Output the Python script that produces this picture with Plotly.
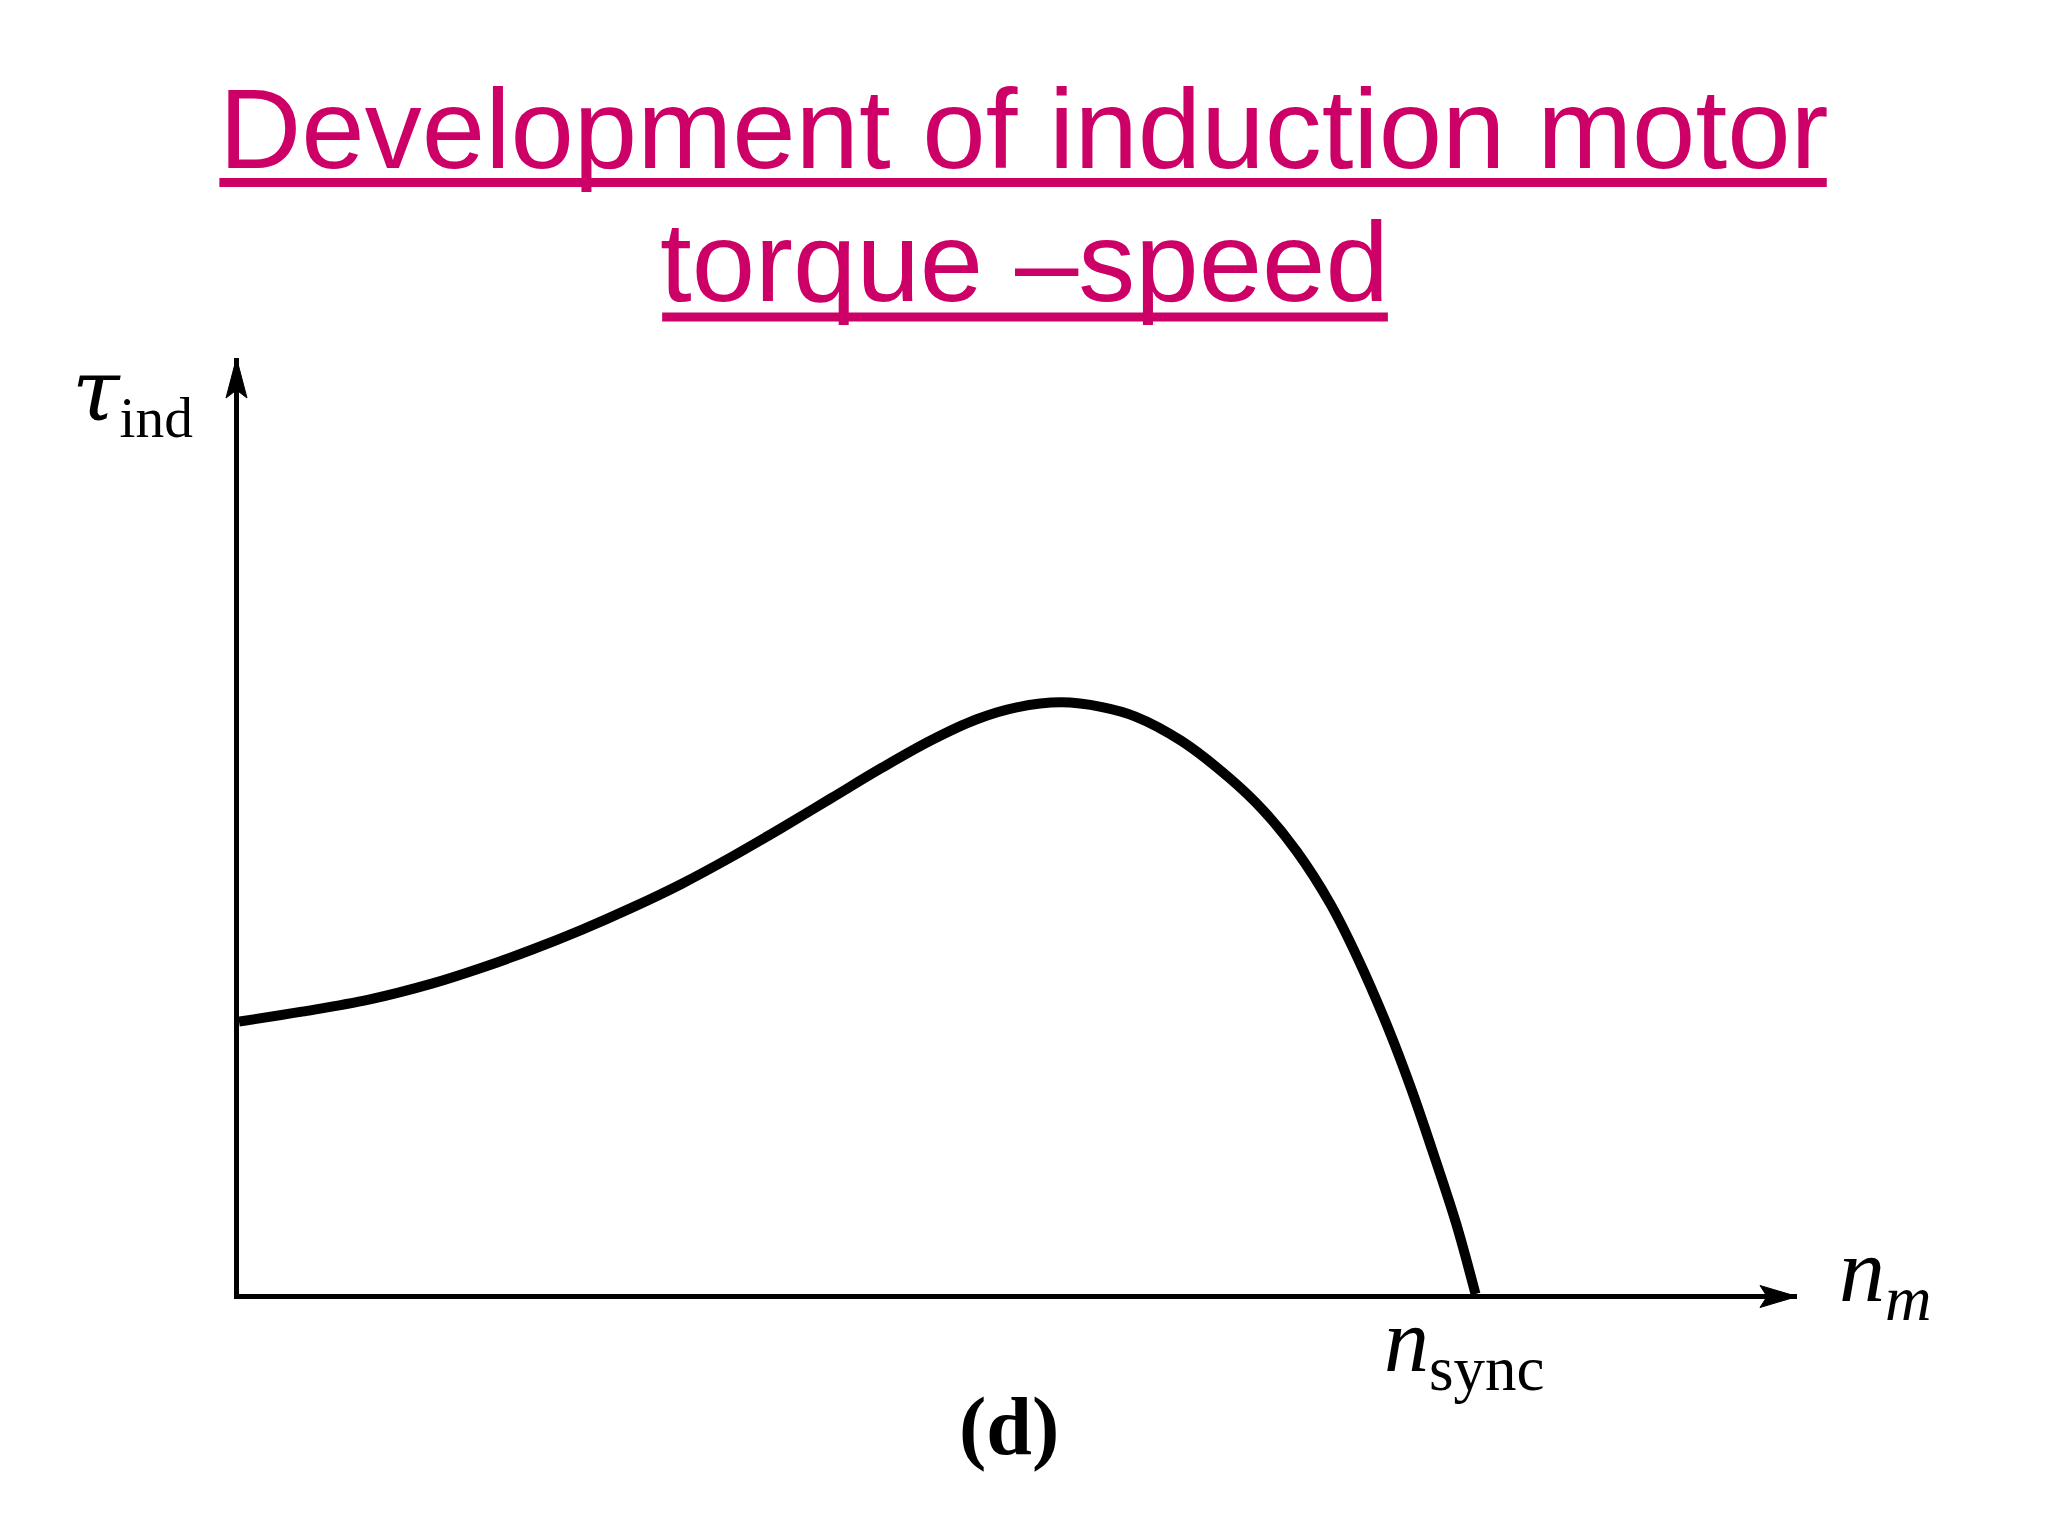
"""
Induction motor torque-speed sketch (figure (d)), drawn with Plotly.
"""
import plotly.graph_objects as go

# ── data: normalised speed (n_sync = 1) and torque (peak = 1) ────────────────
speed = [0.0000, 0.0509, 0.1050, 0.1559, 0.1963, 0.2367, 0.2771, 0.3174,
         0.3578, 0.3982, 0.4386, 0.4790, 0.5194, 0.5598, 0.5961, 0.6290,
         0.6650, 0.6980, 0.7250, 0.7620, 0.8010, 0.8285, 0.8552, 0.8826,
         0.9050, 0.9295, 0.9485, 0.9680, 0.9845, 1.0000]
torque = [0.4604, 0.4772, 0.4975, 0.5245, 0.5514, 0.5818, 0.6155, 0.6526,
          0.6931, 0.7386, 0.7875, 0.8381, 0.8887, 0.9359, 0.9710, 0.9915,
          1.0000, 0.9920, 0.9760, 0.9350, 0.8720, 0.8170, 0.7487, 0.6594,
          0.5666, 0.4486, 0.3440, 0.2243, 0.1180, 0.0000]

X_MAX = 1.26     # tip of the speed axis arrow
Y_MAX = 1.582    # tip of the torque axis arrow

TITLE_1 = "Development of induction motor"
TITLE_2 = "torque –speed"
Y_LABEL = "<i><span style='font-family:DejaVu Serif;font-size:86px'>τ</span></i><sub>ind</sub>"
X_LABEL = "<i>n</i><sub><i>m</i></sub>"
SYNC_LABEL = "<i>n</i><sub>sync</sub>"
PANEL = "<b>(d)</b>"

MAGENTA = "#CC0066"
INK = "#000000"
SANS = "Liberation Sans, Arial, sans-serif"
SERIF = "Liberation Serif, Times New Roman, serif"

fig = go.Figure()
fig.add_trace(go.Scatter(
    x=speed, y=torque, mode="lines",
    line=dict(color=INK, width=10, shape="spline", smoothing=1.0),
    showlegend=False, hoverinfo="skip",
))

axis = dict(showgrid=False, zeroline=False, showticklabels=False, ticks="",
            showline=True, linecolor=INK, linewidth=5)
fig.update_xaxes(range=[0, X_MAX], **axis)
fig.update_yaxes(range=[0, Y_MAX], **axis)

# arrow heads at the axis ends (pixel sized, anchored on the plot edges)
fig.add_shape(type="path", xref="paper", yref="paper", xsizemode="pixel", ysizemode="pixel",
              xanchor=1, yanchor=0, path="M0,-2.5 L-37,8.5 L-30,-2.5 L-37,-13.5 Z",
              fillcolor=INK, line=dict(color=INK, width=1), layer="above")
fig.add_shape(type="path", xref="paper", yref="paper", xsizemode="pixel", ysizemode="pixel",
              xanchor=0, yanchor=1, path="M-2.5,0 L-13,-40 L-2.5,-32 L8,-40 Z",
              fillcolor=INK, line=dict(color=INK, width=1), layer="above")

# title underlines (solid, running through the descenders like the slide)
for x0, x1, y in [(-0.0126, 1.0191, 1.1876), (0.2716, 0.7374, 1.0438)]:
    fig.add_shape(type="line", xref="paper", yref="paper", x0=x0, x1=x1, y0=y, y1=y,
                  line=dict(color=MAGENTA, width=9))

notes = [
    dict(text=TITLE_1, x=0.504, y=1.2447, font=dict(family=SANS, size=114, color=MAGENTA)),
    dict(text=TITLE_2, x=0.504, y=1.1036, font=dict(family=SANS, size=114, color=MAGENTA)),
    dict(text=Y_LABEL, x=-0.0282, y=0.9607, xanchor="right", font=dict(family=SERIF, size=82, color=INK)),
    dict(text=X_LABEL, x=1.0566, y=0.0185, font=dict(family=SERIF, size=92, color=INK)),
    dict(text=SYNC_LABEL, x=0.7864, y=-0.0575, font=dict(family=SERIF, size=90, color=INK)),
    dict(text=PANEL, x=0.494, y=-0.142, font=dict(family=SERIF, size=82, color=INK)),
]
for n in notes:
    fig.add_annotation(xref="paper", yref="paper", showarrow=False,
                       xanchor=n.pop("xanchor", "center"), yanchor="middle", **n)

fig.update_layout(
    width=2048, height=1536,
    margin=dict(l=231, r=259, t=350, b=250, pad=0),
    paper_bgcolor="white", plot_bgcolor="white",
)
fig.write_html("out.html")
